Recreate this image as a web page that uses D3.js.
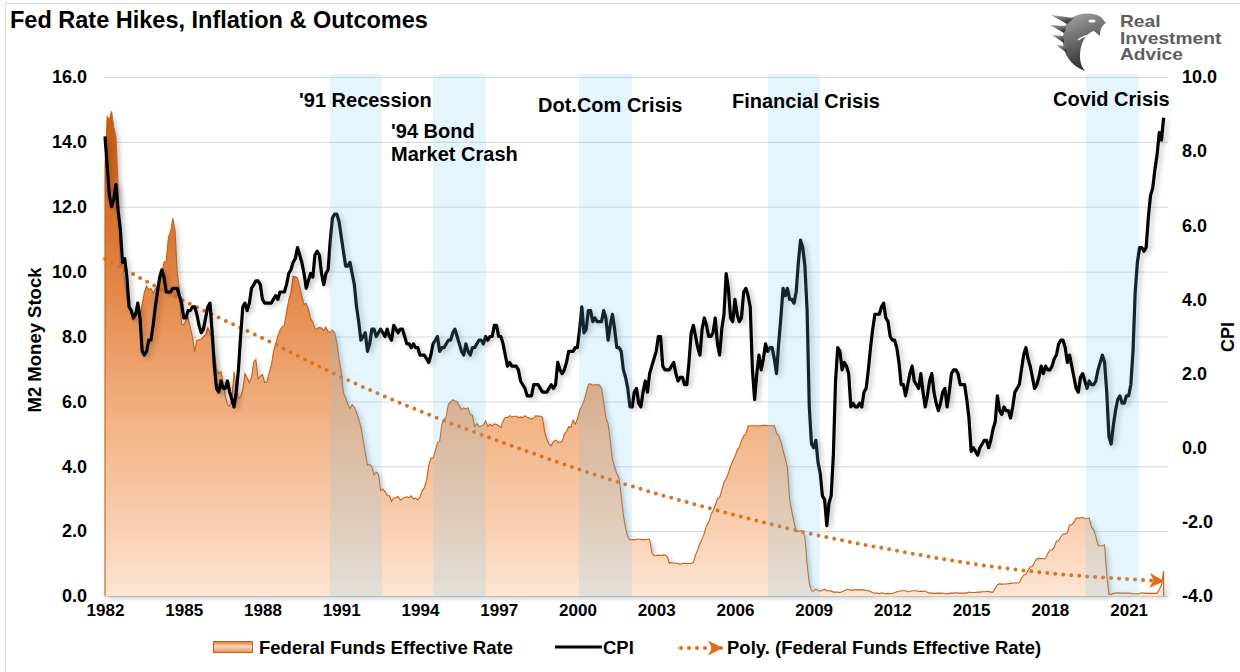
<!DOCTYPE html>
<html>
<head>
<meta charset="utf-8">
<script src="https://cdn.jsdelivr.net/npm/d3@7"></script>
<style>
  body { margin: 0; background: #fff; }
  svg text { font-family: "Liberation Sans", Arial, sans-serif; font-weight: bold; fill: #000; }
</style>
</head>
<body>
<svg id="chart" width="1240" height="672"></svg>
<script>
// monthly series, Jan 1982 - May 2022
const startYear = 1982;

const fedFunds = [
  13.22,14.78,14.68,14.94,14.45,14.15,12.59,10.12,10.31,9.71,9.20,8.95,
  8.68,8.51,8.77,8.80,8.63,8.98,9.37,9.56,9.45,9.48,9.34,9.47,
  9.56,9.59,9.91,10.29,10.32,11.06,11.23,11.64,11.30,9.99,9.43,8.38,
  8.35,8.50,8.58,8.27,7.97,7.53,7.88,7.90,7.92,7.99,8.05,8.27,
  8.14,7.86,7.48,6.99,6.85,6.92,6.56,6.17,5.89,5.85,6.04,6.91,
  6.43,6.10,6.13,6.37,6.85,6.73,6.58,6.73,7.22,7.29,6.69,6.77,
  6.83,6.58,6.58,6.87,7.09,7.51,7.75,8.01,8.19,8.30,8.35,8.76,
  9.12,9.36,9.85,9.84,9.81,9.53,9.24,8.99,9.02,8.84,8.55,8.45,
  8.23,8.24,8.28,8.26,8.18,8.29,8.15,8.13,8.20,8.11,7.81,7.31,
  6.91,6.25,6.12,5.91,5.78,5.90,5.82,5.66,5.45,5.21,4.81,4.43,
  4.03,4.06,3.98,3.73,3.82,3.76,3.25,3.30,3.22,3.10,3.09,2.92,
  3.02,3.03,3.07,2.96,3.00,3.04,3.06,3.03,3.09,2.99,3.02,2.96,
  3.05,3.25,3.34,3.56,4.01,4.25,4.26,4.47,4.73,4.76,5.29,5.45,
  5.53,5.92,5.98,6.05,6.01,6.00,5.85,5.74,5.80,5.76,5.80,5.60,
  5.56,5.22,5.31,5.22,5.24,5.27,5.40,5.22,5.30,5.24,5.31,5.29,
  5.25,5.19,5.39,5.51,5.50,5.56,5.52,5.54,5.54,5.50,5.52,5.50,
  5.56,5.51,5.49,5.45,5.49,5.56,5.54,5.55,5.51,5.07,4.83,4.68,
  4.63,4.76,4.81,4.74,4.74,4.76,4.99,5.07,5.22,5.20,5.42,5.30,
  5.45,5.73,5.85,6.02,6.27,6.53,6.54,6.50,6.52,6.51,6.51,6.40,
  5.98,5.49,5.31,4.80,4.21,3.97,3.77,3.65,3.07,2.49,2.09,1.82,
  1.73,1.74,1.73,1.75,1.75,1.75,1.73,1.74,1.75,1.75,1.34,1.24,
  1.24,1.26,1.25,1.26,1.26,1.22,1.01,1.03,1.01,1.01,1.00,0.98,
  1.00,1.01,1.00,1.00,1.00,1.03,1.26,1.43,1.61,1.76,1.93,2.16,
  2.28,2.50,2.63,2.79,3.00,3.04,3.26,3.50,3.62,3.78,4.00,4.16,
  4.29,4.49,4.59,4.79,4.94,4.99,5.24,5.25,5.25,5.25,5.25,5.24,
  5.25,5.26,5.26,5.25,5.25,5.25,5.26,5.02,4.94,4.76,4.49,4.24,
  3.94,2.98,2.61,2.28,1.98,2.00,2.01,2.00,1.81,0.97,0.39,0.16,
  0.15,0.22,0.18,0.15,0.18,0.21,0.16,0.16,0.15,0.12,0.12,0.12,
  0.11,0.13,0.16,0.20,0.20,0.18,0.18,0.19,0.19,0.19,0.19,0.18,
  0.17,0.16,0.14,0.10,0.09,0.09,0.07,0.10,0.08,0.07,0.08,0.07,
  0.08,0.10,0.13,0.14,0.16,0.16,0.16,0.13,0.14,0.16,0.16,0.16,
  0.14,0.15,0.14,0.15,0.11,0.09,0.09,0.08,0.08,0.09,0.08,0.09,
  0.07,0.07,0.08,0.09,0.09,0.10,0.09,0.09,0.09,0.09,0.09,0.12,
  0.11,0.11,0.11,0.12,0.12,0.13,0.13,0.14,0.14,0.12,0.12,0.24,
  0.34,0.38,0.36,0.37,0.37,0.38,0.39,0.40,0.40,0.40,0.41,0.54,
  0.65,0.66,0.79,0.90,0.91,1.04,1.15,1.16,1.15,1.15,1.16,1.30,
  1.41,1.42,1.51,1.69,1.70,1.82,1.91,1.91,1.95,2.19,2.20,2.27,
  2.40,2.40,2.41,2.42,2.39,2.38,2.40,2.13,2.04,1.83,1.55,1.55,
  1.55,1.58,0.65,0.05,0.05,0.08,0.09,0.10,0.09,0.09,0.09,0.09,
  0.09,0.08,0.07,0.07,0.06,0.08,0.10,0.09,0.08,0.08,0.08,0.08,
  0.08,0.08,0.20,0.33,0.77
];

const cpi = [
  8.4,7.6,6.8,6.5,6.7,7.1,6.4,5.9,5.0,5.1,4.6,3.8,
  3.7,3.5,3.6,3.9,3.5,2.6,2.5,2.6,2.9,2.9,3.3,3.8,
  4.2,4.6,4.8,4.6,4.2,4.2,4.2,4.3,4.3,4.3,4.1,3.9,
  3.5,3.5,3.7,3.7,3.8,3.8,3.6,3.3,3.1,3.2,3.5,3.8,
  3.9,3.1,2.2,1.6,1.5,1.8,1.6,1.6,1.8,1.5,1.3,1.1,
  1.5,2.1,3.0,3.8,3.9,3.7,3.9,4.3,4.4,4.5,4.5,4.4,
  4.0,3.9,3.9,3.9,3.9,4.0,4.1,4.0,4.2,4.2,4.2,4.4,
  4.7,4.8,5.0,5.1,5.4,5.2,5.0,4.7,4.3,4.5,4.7,4.6,
  5.2,5.3,5.2,4.7,4.4,4.7,4.8,5.6,6.2,6.3,6.3,6.1,
  5.7,5.3,4.9,4.9,5.0,4.7,4.4,3.8,3.4,2.9,3.0,3.1,
  2.6,2.8,3.2,3.2,3.0,3.1,3.2,3.1,3.0,3.2,3.0,2.9,
  3.3,3.2,3.1,3.2,3.2,3.0,2.8,2.8,2.7,2.8,2.7,2.7,
  2.5,2.5,2.5,2.4,2.3,2.5,2.8,2.9,3.0,2.6,2.7,2.7,
  2.8,2.9,2.9,3.1,3.2,3.0,2.8,2.6,2.5,2.8,2.6,2.5,
  2.7,2.7,2.8,2.9,2.9,2.8,3.0,2.9,3.0,3.0,3.3,3.3,
  3.0,3.0,2.8,2.5,2.2,2.3,2.2,2.2,2.2,2.1,1.8,1.7,
  1.6,1.4,1.4,1.4,1.7,1.7,1.7,1.6,1.5,1.5,1.5,1.6,
  1.7,1.6,1.7,2.3,2.1,2.0,2.1,2.3,2.6,2.6,2.6,2.7,
  2.7,3.2,3.8,3.1,3.2,3.7,3.7,3.4,3.5,3.4,3.4,3.4,
  3.7,3.5,2.9,3.3,3.6,3.2,2.7,2.7,2.6,2.1,1.9,1.6,
  1.1,1.1,1.5,1.6,1.2,1.1,1.5,1.8,1.5,2.0,2.2,2.4,
  2.6,3.0,3.0,2.2,2.1,2.1,2.1,2.2,2.3,2.0,1.8,1.9,
  1.9,1.7,1.7,2.3,3.1,3.3,3.0,2.7,2.5,3.2,3.5,3.3,
  3.0,3.0,3.1,3.5,2.8,2.5,3.2,3.6,4.7,4.3,3.5,3.4,
  4.0,3.6,3.4,3.5,4.2,4.3,4.1,3.8,2.1,1.3,2.0,2.5,
  2.1,2.4,2.8,2.6,2.7,2.7,2.4,2.0,2.8,3.5,4.3,4.1,
  4.3,4.0,4.0,3.9,4.2,5.0,5.6,5.4,4.9,3.7,1.1,0.1,
  0.0,0.2,-0.4,-0.7,-1.3,-1.4,-2.1,-1.5,-1.3,-0.2,1.8,2.7,
  2.6,2.1,2.3,2.2,2.0,1.1,1.2,1.1,1.1,1.2,1.1,1.5,
  1.6,2.1,2.7,3.2,3.6,3.6,3.6,3.8,3.9,3.5,3.4,3.0,
  2.9,2.9,2.7,2.3,1.7,1.7,1.4,1.7,2.0,2.2,1.8,1.7,
  1.6,2.0,1.5,1.1,1.4,1.8,2.0,1.5,1.2,1.0,1.2,1.5,
  1.6,1.1,1.5,2.0,2.1,2.1,2.0,1.7,1.7,1.7,1.3,0.8,
  -0.1,0.0,-0.1,-0.2,0.0,0.1,0.2,0.2,0.0,0.2,0.5,0.7,
  1.4,1.0,0.9,1.1,1.0,1.0,0.8,1.1,1.5,1.6,1.7,2.1,
  2.5,2.7,2.4,2.2,1.9,1.6,1.7,1.9,2.2,2.0,2.2,2.1,
  2.1,2.2,2.4,2.5,2.8,2.9,2.9,2.7,2.3,2.5,2.2,1.9,
  1.6,1.5,1.9,2.0,1.8,1.6,1.8,1.7,1.7,1.8,2.1,2.3,
  2.5,2.3,1.5,0.3,0.1,0.6,1.0,1.3,1.4,1.2,1.2,1.4,
  1.4,1.7,2.6,4.2,5.0,5.4,5.4,5.3,5.4,6.2,6.8,7.0,
  7.5,7.9,8.5,8.3,8.9
];

// polynomial trend of the fed funds rate
const trendYears  = [1982, 1985, 1988, 1991, 1994, 1997, 2000, 2003, 2006, 2009, 2012, 2015, 2018, 2021, 2022.33];
const trendValues = [10.4, 9.1, 7.95, 6.75, 5.7, 4.78, 3.92, 3.16, 2.5, 1.9, 1.42, 1.0, 0.7, 0.52, 0.46];

const tickYears = [1982, 1985, 1988, 1991, 1994, 1997, 2000, 2003, 2006, 2009, 2012, 2015, 2018, 2021];
const leftTicks = [0, 2, 4, 6, 8, 10, 12, 14, 16];
const rightTicks = [-4, -2, 0, 2, 4, 6, 8, 10];

// crisis periods (shaded)
const bandStart = [1990.57, 1994.5, 2000.06, 2007.26, 2019.37];
const bandEnd   = [1992.55, 1996.51, 2002.08, 2009.24, 2021.39];
const bandLabels = [["'91 Recession"], ["'94 Bond", "Market Crash"], ["Dot.Com Crisis"], ["Financial Crisis"], ["Covid Crisis"]];

const svg = d3.select('#chart');

const x = d3.scaleLinear().domain([1982, 2022.5]).range([105, 1168]);
const yL = d3.scaleLinear().domain([0, 16]).range([596, 77]);
const yR = d3.scaleLinear().domain([-4, 10]).range([596, 77]);
const monthT = i => startYear + i / 12;

// outer frame
svg.append('rect')
  .attr('x', 5.5).attr('y', 3.5).attr('width', 1250).attr('height', 700)
  .attr('fill', 'none').attr('stroke', '#d9d9d9');

var defs = svg.append('defs');
var grad = defs.append('linearGradient')
  .attr('id', 'ff-grad')
  .attr('gradientUnits', 'userSpaceOnUse')
  .attr('x1', 0).attr('y1', yL(15)).attr('x2', 0).attr('y2', yL(0));
[[0, '#c45811'], [0.25, '#d97632'], [0.45, '#e8955a'], [0.65, '#f3b487'], [0.85, '#f9ceaf'], [1, '#fde5d4']]
  .forEach(s => grad.append('stop').attr('offset', s[0]).attr('stop-color', s[1]));

var swatchGrad = defs.append('linearGradient')
  .attr('id', 'swatch-grad').attr('x1', 0).attr('y1', 0).attr('x2', 0).attr('y2', 1);
[[0, '#dc7430'], [0.45, '#fbd8bd'], [1, '#e88a4b']]
  .forEach(s => swatchGrad.append('stop').attr('offset', s[0]).attr('stop-color', s[1]));

var logoGrad = defs.append('linearGradient')
  .attr('id', 'logo-grad').attr('x1', 0).attr('y1', 0).attr('x2', 0.3).attr('y2', 1);
logoGrad.append('stop').attr('offset', 0).attr('stop-color', '#a8a8a8');
logoGrad.append('stop').attr('offset', 1).attr('stop-color', '#2e2e2e');

var shadow = defs.append('filter').attr('id', 'shadow')
  .attr('x', -0.05).attr('y', -0.05).attr('width', 1.1).attr('height', 1.1);
shadow.append('feDropShadow')
  .attr('dx', 3).attr('dy', 2).attr('stdDeviation', 2.5)
  .attr('flood-color', '#000').attr('flood-opacity', 0.22);

defs.append('marker')
  .attr('id', 'arrow')
  .attr('markerUnits', 'userSpaceOnUse')
  .attr('markerWidth', 18).attr('markerHeight', 18)
  .attr('refX', 14).attr('refY', 7.5)
  .attr('orient', 'auto')
  .append('path')
  .attr('d', 'M0,0 L15,7.5 L0,15 L4,7.5 Z')
  .attr('fill', '#e0701f');

// gridlines
svg.append('g').selectAll('line')
  .data(leftTicks)
  .join('line')
  .attr('x1', 105).attr('x2', 1168)
  .attr('y1', d => yL(d) + 0.5).attr('y2', d => yL(d) + 0.5)
  .attr('stroke', '#d9d9d9').attr('stroke-width', 1);

// fed funds area
var ffArea = d3.area()
  .x((d, i) => x(monthT(i)))
  .y0(yL(0))
  .y1(d => yL(d));
svg.append('path')
  .datum(fedFunds)
  .attr('d', ffArea)
  .attr('fill', 'url(#ff-grad)')
  .attr('filter', 'url(#shadow)');

var outlinePts = [[monthT(0), 0]]
  .concat(fedFunds.map((v, i) => [monthT(i), v]))
  .concat([[monthT(fedFunds.length - 1), 0]]);
svg.append('path')
  .datum(outlinePts)
  .attr('d', d3.line().x(d => x(d[0])).y(d => yL(d[1])))
  .attr('fill', 'none')
  .attr('stroke', '#bf621c')
  .attr('stroke-width', 1.1);

// trend line
svg.append('path')
  .datum(trendYears.map((t, i) => [t, trendValues[i]]))
  .attr('d', d3.line().x(d => x(d[0])).y(d => yL(d[1])).curve(d3.curveMonotoneX))
  .attr('fill', 'none')
  .attr('stroke', '#e0701f')
  .attr('stroke-width', 4)
  .attr('stroke-linecap', 'round')
  .attr('stroke-dasharray', '0 8')
  .attr('marker-end', 'url(#arrow)');

// CPI line (right axis)
svg.append('path')
  .datum(cpi)
  .attr('d', d3.line().x((d, i) => x(monthT(i))).y(d => yR(d)))
  .attr('fill', 'none')
  .attr('stroke', '#000')
  .attr('stroke-width', 3.2)
  .attr('stroke-linejoin', 'round')
  .attr('filter', 'url(#shadow)');

// crisis bands
svg.append('g').selectAll('rect')
  .data(bandStart)
  .join('rect')
  .attr('x', d => x(d))
  .attr('width', (d, i) => x(bandEnd[i]) - x(d))
  .attr('y', 74).attr('height', 523)
  .attr('fill', '#6ec6f2')
  .attr('fill-opacity', 0.18);

// crisis labels
var labelPos = [[299, 107], [391, 138], [538, 112], [732, 108], [1053, 106]];
bandLabels.forEach((lines, i) => {
  var t = svg.append('text')
    .attr('x', labelPos[i][0]).attr('y', labelPos[i][1])
    .attr('font-size', 20);
  lines.forEach((l, j) => {
    t.append('tspan').attr('x', labelPos[i][0]).attr('dy', j ? 23 : 0).text(l);
  });
});

// axes
var fmt = d => d.toFixed(1);
var gL = svg.append('g').attr('transform', 'translate(105,0)')
  .call(d3.axisLeft(yL).tickValues(leftTicks).tickFormat(fmt).tickSize(0).tickPadding(18));
var gR = svg.append('g').attr('transform', 'translate(1168,0)')
  .call(d3.axisRight(yR).tickValues(rightTicks).tickFormat(fmt).tickSize(0).tickPadding(14));
var gB = svg.append('g').attr('transform', 'translate(0,596)')
  .call(d3.axisBottom(x).tickValues(tickYears).tickFormat(d => d).tickSize(0).tickPadding(8));
[gL, gR, gB].forEach(g => {
  g.select('.domain').remove();
  g.attr('font-family', null).attr('font-size', null);
  g.selectAll('text').attr('font-size', 18).attr('fill', '#000');
});
gB.selectAll('text').attr('font-size', 17);

svg.append('text')
  .attr('transform', 'translate(41,340) rotate(-90)')
  .attr('text-anchor', 'middle')
  .attr('font-size', 18.5)
  .text('M2 Money Stock');
svg.append('text')
  .attr('transform', 'translate(1234,337) rotate(-90)')
  .attr('text-anchor', 'middle')
  .attr('font-size', 18)
  .text('CPI');

// title
svg.append('text')
  .attr('x', 10).attr('y', 28)
  .attr('font-size', 23.5)
  .text('Fed Rate Hikes, Inflation & Outcomes');

// logo
var logo = svg.append('g').attr('transform', 'translate(1050,10)');
logo.append('path')
  .attr('d', 'M20,9 C30,2 44,2 51,7 L56,13 C52,15 50,19 50,26 L44,21 C36,23 30,33 30,46 C30,53 32,57 35,61 C21,56 13,44 13,31 C13,22 15,14 20,9 Z')
  .attr('fill', 'url(#logo-grad)');
logo.selectAll('path.feather')
  .data(['M1,5 L24,8 L17,14 Z', 'M0,15 L17,16 L14,23 Z', 'M2,25 L14,26 L14,33 Z', 'M6,35 L15,36 L17,43 Z'])
  .join('path')
  .attr('class', 'feather')
  .attr('d', d => d)
  .attr('fill', 'url(#logo-grad)');
logo.append('ellipse').attr('cx', 42).attr('cy', 11).attr('rx', 3.5).attr('ry', 1.6).attr('fill', '#fff');
logo.append('path').attr('d', 'M28,30 C33,26 38,25 43,25').attr('fill', 'none').attr('stroke', '#fff').attr('stroke-width', 1.5);

var logoText = svg.append('g').attr('transform', 'translate(1120,0) scale(1.2,1)');
[['Real', 27], ['Investment', 44], ['Advice', 60]].forEach(d => {
  logoText.append('text').attr('x', 0).attr('y', d[1])
    .attr('font-size', 16).style('fill', '#5e5e5e').text(d[0]);
});

// legend
var lg = svg.append('g');
lg.append('rect')
  .attr('x', 213.5).attr('y', 641.5).attr('width', 39).attr('height', 11)
  .attr('fill', 'url(#swatch-grad)').attr('stroke', '#c0621c');
lg.append('text').attr('x', 259).attr('y', 654).attr('font-size', 18.5).text('Federal Funds Effective Rate');
lg.append('line')
  .attr('x1', 555).attr('x2', 602).attr('y1', 647).attr('y2', 647)
  .attr('stroke', '#000').attr('stroke-width', 3);
lg.append('text').attr('x', 603).attr('y', 654).attr('font-size', 18.5).text('CPI');
lg.append('line')
  .attr('x1', 681).attr('x2', 722).attr('y1', 648).attr('y2', 648)
  .attr('stroke', '#e0701f').attr('stroke-width', 4)
  .attr('stroke-linecap', 'round').attr('stroke-dasharray', '0 8')
  .attr('marker-end', 'url(#arrow)');
lg.append('text').attr('x', 727).attr('y', 654).attr('font-size', 18.5).text('Poly. (Federal Funds Effective Rate)');
</script>
</body>
</html>
